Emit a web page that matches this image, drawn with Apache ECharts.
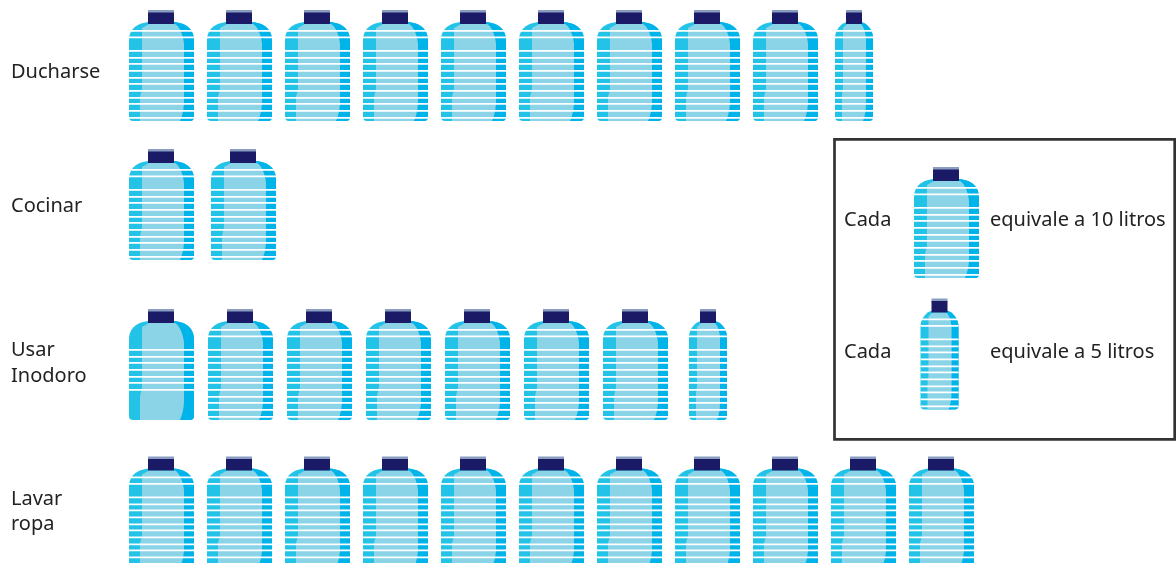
<!DOCTYPE html>
<html>
<head>
<meta charset="utf-8">
<style>html,body{margin:0;padding:0;background:#fff}#c{width:1176px;height:563px}</style>
<script src="https://cdn.jsdelivr.net/npm/echarts@6/dist/echarts.min.js"></script>
</head>
<body>
<div id="c"></div>
<script>
// Data
const categories = ['Ducharse', 'Cocinar', 'Usar\nInodoro', 'Lavar\nropa'];
const litres = [95, 20, 75, 110];
const largeUnit = 10;
const smallUnit = 5;
const legendTexts = ['equivale a 10 litros', 'equivale a 5 litros'];
const legendLead = 'Cada';

// Layout / style
const FONT = '"Noto Sans", sans-serif';
const FS = 20;
const rowPitch = [1, 82 / 78, 79 / 78, 1];
const rowNudge = [0, -10, 1, -0.5];
const smallNudge = [4, 0, 7, 0];
const C = { base: '#22c3e6', light: '#8bd3e6', dark: '#00b4ea', navy: '#1a1a66', capTop: '#8a9cc0' };
const stripes = [20, 26.5, 40, 47, 53, 60, 67, 73, 80, 87, 93, 100, 107];
const plainStripes = [40, 47, 53, 60, 67, 73, 80];

const shapes = {
  large: {
    w: 65, cap: [19, 26],
    body: ['M0,30 C0,18 10,12 22,12 L43,12 C55,12 65,18 65,30 L65,107 Q65,111 61,111 L4,111 Q0,111 0,107 Z', 0, 12, 65, 99],
    light: ['M13,18 L20,14 L46,14 C50,16 54,24 55,34 L55,90 C55,100 53,106 51,111 L11,111 L11,88 C11,84 13,82 13,78 Z', 11, 14, 44, 97],
    dark: ['M43,12 C55,12 65,18 65,30 L65,107 Q65,111 61,111 L51,111 C53,106 55,100 55,90 L55,34 C54,24 50,16 44,14 Z', 43, 12, 22, 99]
  },
  small: {
    w: 38, cap: [11, 16],
    body: ['M0,28 C0,20 6,13 12,12 L26,12 C32,13 38,20 38,28 L38,107 Q38,111 34,111 L4,111 Q0,111 0,107 Z', 0, 12, 38, 99],
    light: ['M8,18 L12,14 L26,14 C28,16 31,22 31,30 L31,92 C31,100 30,106 28,111 L7,111 L7,86 C7,82 8,80 8,76 Z', 7, 14, 24, 97],
    dark: ['M26,12 C32,13 38,20 38,28 L38,107 Q38,111 34,111 L28,111 C30,106 31,100 31,92 L31,30 C31,22 28,16 26,14 Z', 26, 12, 12, 99]
  }
};

function pathEl(def, fill) {
  return { type: 'path', shape: { pathData: def[0], x: def[1], y: def[2], width: def[3], height: def[4], layout: 'cover' }, style: { fill: fill } };
}
function bottle(kind, x, y, stripeList) {
  const s = shapes[kind];
  const children = [
    pathEl(s.body, C.base),
    pathEl(s.dark, C.dark),
    pathEl(s.light, C.light),
    { type: 'rect', shape: { x: s.cap[0], y: 0, width: s.cap[1], height: 3.5 }, style: { fill: C.capTop } },
    { type: 'rect', shape: { x: s.cap[0], y: 2.5, width: s.cap[1], height: 11.5 }, style: { fill: C.navy } }
  ];
  stripeList.forEach(function (sy) {
    children.push({ type: 'rect', shape: { x: 0, y: sy, width: s.w, height: 1.7 }, style: { fill: '#fff' } });
  });
  return { type: 'group', x: x, y: y, children: children };
}

// One data item per bottle: [litres before this bottle, row, litres this bottle holds]
const bottleData = [];
litres.forEach(function (total, row) {
  let done = 0;
  while (total - done >= largeUnit) { bottleData.push([done, row, largeUnit]); done += largeUnit; }
  if (total - done >= smallUnit) { bottleData.push([done, row, smallUnit]); }
});

function renderBottle(params, api) {
  const row = api.value(1), start = api.value(0), size = api.value(2);
  const zero = api.coord([0, row]);
  const p = api.coord([start, row]);
  const x = zero[0] + (p[0] - zero[0]) * rowPitch[row] + (size === smallUnit ? smallNudge[row] : 0);
  const y = p[1] + rowNudge[row] - 55.5;
  const list = (row === 2 && start === 0) ? plainStripes : stripes;
  return bottle(size === smallUnit ? 'small' : 'large', x, y, list);
}

const legendBottles = [['large', 914, 167], ['small', 920.5, 298.5]];
function renderLegendBottle(params) {
  const b = legendBottles[params.dataIndex];
  return bottle(b[0], b[1], b[2], stripes);
}

const labelStyle = { fontFamily: FONT, fontSize: FS, color: '#222', lineHeight: 26 };
const rich = {
  p: labelStyle,
  r0: Object.assign({}, labelStyle, { padding: [13, 0, 0, 0] }),
  r1: Object.assign({}, labelStyle, { padding: [0, 0, 17, 0] }),
  r2: labelStyle,
  r3: Object.assign({}, labelStyle, { padding: [0, 0, 3, 0] })
};

const chart = echarts.init(document.getElementById('c'), null, { renderer: 'canvas' });
chart.setOption({
  animation: false,
  backgroundColor: '#fff',
  grid: { left: 129, top: -9, width: 1014, height: 596, containLabel: false, outerBoundsMode: 'none' },
  xAxis: { type: 'value', min: 0, max: 130, show: false },
  yAxis: {
    type: 'category', inverse: true, data: categories,
    axisLine: { show: false }, axisTick: { show: false }, splitLine: { show: false },
    axisLabel: {
      show: true, align: 'left', margin: 118, rich: rich,
      formatter: function (v, i) {
        const lines = v.split('\n');
        return lines.map(function (t, k) { return '{' + (k === lines.length - 1 ? 'r' + i : 'p') + '|' + t + '}'; }).join('\n');
      }
    }
  },
  graphic: [
    { type: 'rect', shape: { x: 834.5, y: 139.3, width: 340.2, height: 300 }, style: { fill: 'none', stroke: '#333', lineWidth: 2.7 } },
    { type: 'text', x: 844, y: 220, style: { text: legendLead, font: FS + 'px ' + FONT, fill: '#222', verticalAlign: 'middle' } },
    { type: 'text', x: 990, y: 220, style: { text: legendTexts[0], font: FS + 'px ' + FONT, fill: '#222', verticalAlign: 'middle' } },
    { type: 'text', x: 844, y: 352, style: { text: legendLead, font: FS + 'px ' + FONT, fill: '#222', verticalAlign: 'middle' } },
    { type: 'text', x: 990, y: 352, style: { text: legendTexts[1], font: FS + 'px ' + FONT, fill: '#222', verticalAlign: 'middle' } }
  ],
  series: [
    { type: 'custom', name: 'Litros', clip: false, data: bottleData, encode: { x: 0, y: 1 }, renderItem: renderBottle, silent: true },
    { type: 'custom', name: 'Leyenda', coordinateSystem: 'none', data: [[0], [1]], renderItem: renderLegendBottle, silent: true }
  ]
});
</script>
</body>
</html>
